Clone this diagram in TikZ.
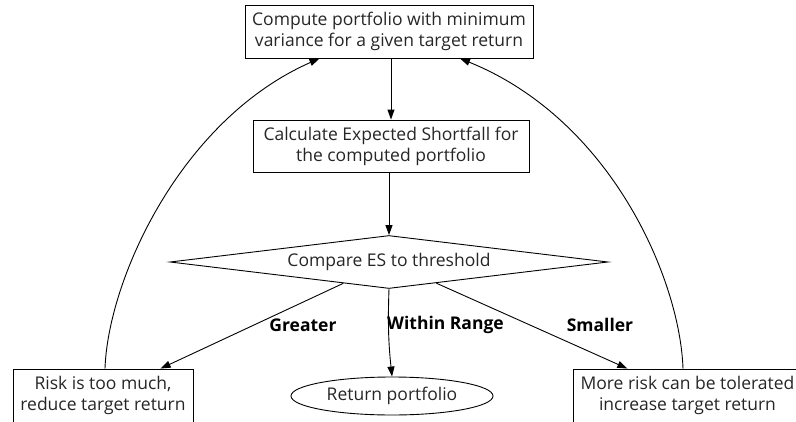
\documentclass[tikz,border=0pt]{standalone}
\usepackage{fontspec}
\setmainfont{Open Sans}
\usetikzlibrary{arrows.meta,shapes.geometric}
\begin{document}
\begin{tikzpicture}[x=1pt,y=-1pt,
  every node/.style={font=\fontsize{17.5}{21}\selectfont, inner sep=0pt, align=center, text=black!85},
  box/.style={draw, line width=0.9pt, rectangle},
  lbl/.style={font=\fontsize{17.5}{21}\selectfont\bfseries, text=black},
  arr/.style={draw, line width=0.9pt, -{Triangle[length=10pt,width=7pt]}}]
\useasboundingbox (0,0) rectangle (796,421);
\clip (0,0) rectangle (796,421);
\node[box, minimum width=288pt, minimum height=53pt] (top) at (389,31.5)
  {Compute portfolio with minimum\\variance for a given target return};
\node[box, minimum width=276pt, minimum height=52pt] (es) at (391,146)
  {Calculate Expected Shortfall for\\the computed portfolio};
\node[draw, line width=0.9pt, shape=diamond, aspect=8.26, minimum width=438pt, minimum height=53pt] (d) at (389,262)
  {Compare ES to threshold};
\node[box, minimum width=180pt, minimum height=53pt] (lb) at (103,395.5)
  {Risk is too much,\\reduce target return};
\node[box, minimum width=229pt, minimum height=53pt] (rb) at (687.5,395.5)
  {More risk can be tolerated\\increase target return};
\node[draw, line width=0.9pt, shape=ellipse, minimum width=202pt, minimum height=38pt] (e) at (392,396)
  {Return portfolio};
\node[lbl] (lg) at (303,325) {Greater};
\node[lbl] (lw) at (445.5,325) {Within Range};
\node[lbl] (ls) at (600,325) {Smaller};
\draw[arr] (top.south -| es.center) -- (es.north);
\draw[arr] (es.south -| d.north) -- (d.north);
\draw[arr] (d) -- (lb);
\draw[arr] (d) -- (rb);
\draw[arr] (d.south) to[bend right=4] (e.north);
\draw[arr] ([xshift=2pt]lb.north) .. controls (108,280) and (180,120) .. ([xshift=-69.5pt]top.south);
\draw[arr] ([xshift=-4.5pt]rb.north) .. controls (680,280) and (612,120) .. ([xshift=71pt]top.south);
\end{tikzpicture}
\end{document}
